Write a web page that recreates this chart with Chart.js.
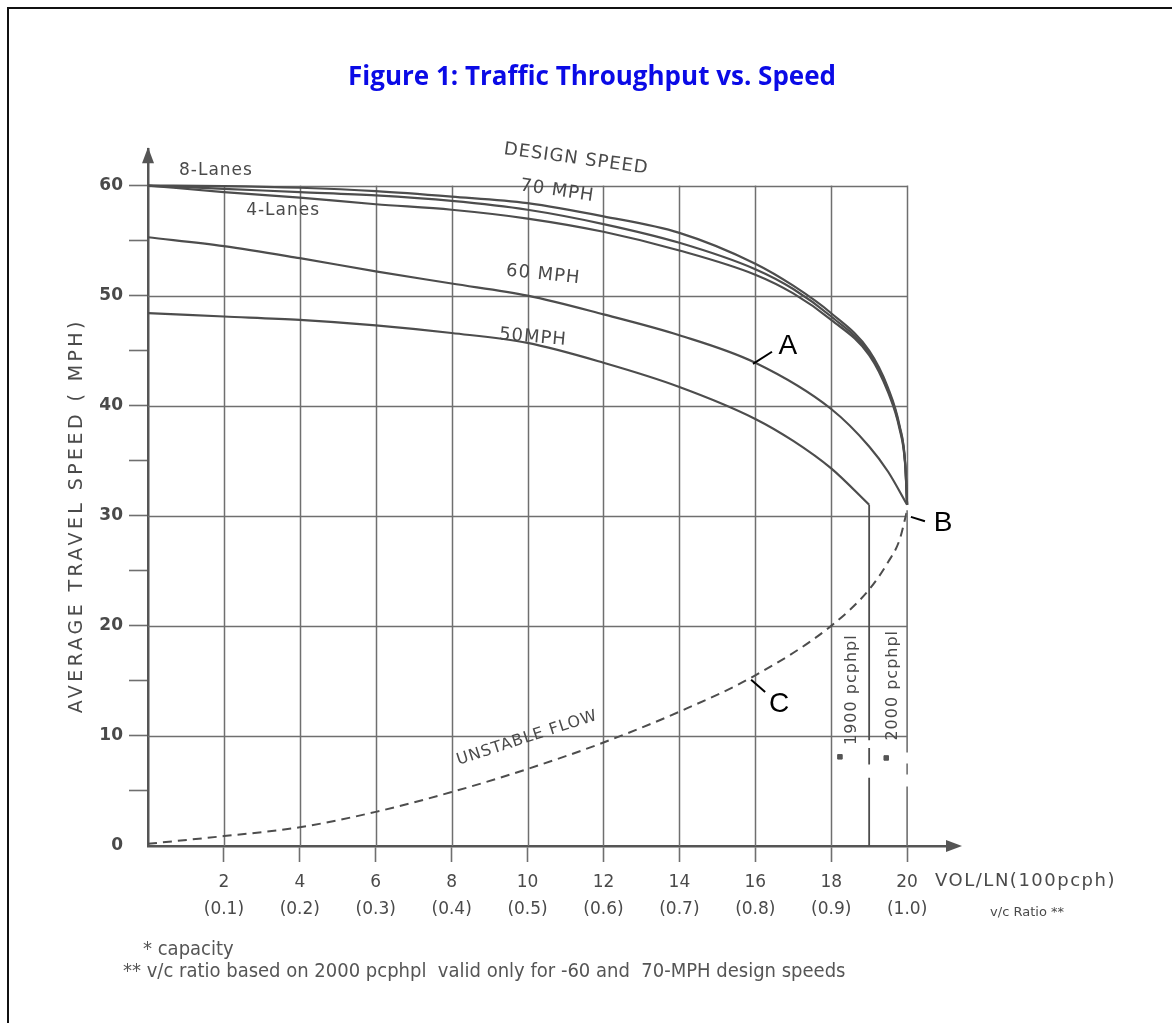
<!DOCTYPE html>
<html>
<head>
<meta charset="utf-8">
<title>Figure 1: Traffic Throughput vs. Speed</title>
<script src="https://cdn.jsdelivr.net/npm/chart.js@4.4.1/dist/chart.umd.min.js"></script>
<style>
    html, body { margin: 0; padding: 0; background: #fff; overflow: hidden; }
    #frame {
        position: absolute; left: 7px; top: 7px; width: 1200px; height: 1100px;
        border-left: 2px solid #111; border-top: 2px solid #111;
    }
    #wrap { position: absolute; left: 0; top: 0; width: 1172px; height: 1023px; }
</style>
</head>
<body>
<div id="frame"></div>
<div id="wrap"><canvas id="speed-chart" width="1172" height="1023"></canvas></div>
<script>
// Axis ticks
const volTicks = [2, 4, 6, 8, 10, 12, 14, 16, 18, 20];
const vcRatio = ['(0.1)', '(0.2)', '(0.3)', '(0.4)', '(0.5)', '(0.6)', '(0.7)', '(0.8)', '(0.9)', '(1.0)'];
const speedTicks = [0, 5, 10, 15, 20, 25, 30, 35, 40, 45, 50, 55, 60];

// 70 MPH design speed (8, 6 and 4 lanes)
const vol70 = [0, 2, 4, 6, 8, 10, 12, 14, 16, 17, 18, 19, 19.5, 19.8, 19.95, 20];
const speed8Lanes = [60, 59.95, 59.8, 59.5, 59.0, 58.4, 57.2, 55.7, 52.9, 50.9, 48.4, 45.0, 41.6, 38.2, 34.8, 31.0];
const speed6Lanes = [60, 59.7, 59.4, 59.1, 58.6, 57.8, 56.5, 54.8, 52.4, 50.6, 48.1, 44.8, 41.4, 38.1, 34.7, 31.0];
const speed4Lanes = [60, 59.4, 58.9, 58.3, 57.8, 57.0, 55.8, 54.1, 51.9, 50.2, 47.8, 44.6, 41.2, 37.9, 34.6, 31.0];

// 60 MPH design speed
const vol60 = [0, 2, 4, 6, 8, 10, 12, 14, 16, 18, 19, 19.5, 20];
const speed60 = [55.3, 54.5, 53.4, 52.2, 51.1, 50.0, 48.3, 46.4, 43.9, 39.7, 36.3, 34.0, 31.0];

// 50 MPH design speed, capacity at 1900 pcphpl
const vol50 = [0, 2, 4, 6, 8, 10, 12, 14, 16, 17, 18, 19];
const speed50 = [48.4, 48.1, 47.8, 47.3, 46.6, 45.7, 43.9, 41.7, 38.8, 36.8, 34.3, 31.0];
const vol1900 = [19, 19, 19, 19, 19, 19, 19, 19];
const speed1900 = [31.0, 9.6, null, 8.9, 7.4, null, 6.2, 0];
const vol2000 = [20, 20, 20, 20, 20, 20, 20, 20];
const speed2000 = [30.5, 8.5, null, 7.5, 6.5, null, 5.4, 0];

// Unstable flow branch
const volUnstable = [0, 2, 4, 6, 8, 10, 12, 14, 16, 18, 19, 19.5, 19.8, 20];
const speedUnstable = [0.2, 0.9, 1.7, 3.1, 4.9, 7.0, 9.4, 12.2, 15.5, 20.0, 23.3, 25.8, 27.8, 30.5];

// capacity markers
const volCapMark = [18.23, 19.45];
const speedCapMark = [8.1, 8.0];

const INK = '#4d4d4d';
const GRID = '#6f6f6f';
const TEXT = '#4a4a4a';
const LETTER = "'DejaVu Sans', sans-serif";

function toPoints(xs, ys) {
    return xs.map((x, i) => ({ x: x, y: ys[i] }));
}

function curve(label, xs, ys, extra) {
    return Object.assign({
        label: label,
        data: toPoints(xs, ys),
        borderColor: INK,
        borderWidth: 2.2,
        pointRadius: 0,
        fill: false,
        cubicInterpolationMode: 'monotone',
        spanGaps: false
    }, extra || {});
}

// Grid that stops at 20 / 60, plus the axis arrows
const paperGrid = {
    id: 'paperGrid',
    beforeDatasetsDraw(chart) {
        const { ctx, scales: { x, y } } = chart;
        ctx.save();
        ctx.strokeStyle = GRID;
        ctx.lineWidth = 1.5;
        ctx.beginPath();
        volTicks.slice(0, -1).forEach(v => {
            const px = Math.round(x.getPixelForValue(v)) + 0.5;
            ctx.moveTo(px, y.getPixelForValue(0));
            ctx.lineTo(px, y.getPixelForValue(60));
        });
        speedTicks.filter(s => s > 0 && s % 10 === 0).forEach(s => {
            const py = Math.round(y.getPixelForValue(s)) + 0.5;
            ctx.moveTo(x.getPixelForValue(0), py);
            ctx.lineTo(x.getPixelForValue(20), py);
        });
        // top of the 20 line down to B
        const p20 = Math.round(x.getPixelForValue(20)) + 0.5;
        ctx.moveTo(p20, y.getPixelForValue(60));
        ctx.lineTo(p20, y.getPixelForValue(31));
        ctx.stroke();

        // arrows
        ctx.fillStyle = '#555';
        const ax = x.getPixelForValue(0);
        const ay = y.getPixelForValue(0);
        ctx.beginPath();
        ctx.moveTo(ax, y.top - 2);
        ctx.lineTo(ax - 6, y.top + 14);
        ctx.lineTo(ax + 6, y.top + 14);
        ctx.closePath();
        ctx.fill();
        ctx.beginPath();
        ctx.moveTo(x.right + 12, ay);
        ctx.lineTo(x.right - 4, ay - 6);
        ctx.lineTo(x.right - 4, ay + 6);
        ctx.closePath();
        ctx.fill();
        ctx.restore();
    }
};

// Hand lettering on the sheet
const annotations = [
    { text: '8-Lanes', x: 1.79, y: 61.4, size: 17, rot: 0 },
    { text: '4-Lanes', x: 3.56, y: 57.7, size: 17, rot: 0 },
    { text: 'DESIGN SPEED', x: 11.28, y: 62.4, size: 18, rot: 7.7 },
    { text: '70 MPH', x: 10.78, y: 59.5, size: 18, rot: 8.5 },
    { text: '60 MPH', x: 10.41, y: 51.9, size: 18, rot: 6 },
    { text: '50MPH', x: 10.14, y: 46.2, size: 18, rot: 5 },
    { text: 'UNSTABLE FLOW', x: 9.99, y: 9.8, size: 16, rot: -18 },
    { text: '1900 pcphpl', x: 18.55, y: 14.2, size: 16, rot: -90 },
    { text: '2000 pcphpl', x: 19.63, y: 14.6, size: 16, rot: -90 }
];

const callouts = [
    { text: 'A', x: 16.86, y: 45.4, from: [15.94, 43.8], to: [16.44, 44.9] },
    { text: 'B', x: 20.95, y: 29.3, from: [20.1, 29.9], to: [20.47, 29.5] },
    { text: 'C', x: 16.63, y: 12.9, from: [15.89, 15.1], to: [16.26, 14.0] }
];

const lettering = {
    id: 'lettering',
    afterDatasetsDraw(chart) {
        const { ctx, scales: { x, y } } = chart;
        ctx.save();
        ctx.fillStyle = TEXT;
        ctx.textAlign = 'center';
        ctx.textBaseline = 'middle';
        ctx.letterSpacing = '1px';
        annotations.forEach(a => {
            ctx.save();
            ctx.translate(x.getPixelForValue(a.x), y.getPixelForValue(a.y));
            ctx.rotate(a.rot * Math.PI / 180);
            ctx.font = a.size + 'px ' + LETTER;
            ctx.fillText(a.text, 0, 0);
            ctx.restore();
        });
        ctx.letterSpacing = '0px';

        // A, B, C callouts
        ctx.strokeStyle = '#000';
        ctx.fillStyle = '#000';
        ctx.lineWidth = 2;
        ctx.font = "28px 'Liberation Sans', Arial, sans-serif";
        callouts.forEach(c => {
            ctx.beginPath();
            ctx.moveTo(x.getPixelForValue(c.from[0]), y.getPixelForValue(c.from[1]));
            ctx.lineTo(x.getPixelForValue(c.to[0]), y.getPixelForValue(c.to[1]));
            ctx.stroke();
            ctx.fillText(c.text, x.getPixelForValue(c.x), y.getPixelForValue(c.y));
        });

        // y axis title
        ctx.fillStyle = TEXT;
        ctx.save();
        ctx.translate(77, (y.getPixelForValue(0) + y.getPixelForValue(60)) / 2);
        ctx.rotate(-Math.PI / 2);
        ctx.font = '19px ' + LETTER;
        ctx.letterSpacing = '3.4px';
        ctx.fillText('AVERAGE TRAVEL SPEED ( MPH)', 0, 0);
        ctx.restore();

        // x axis title
        ctx.textAlign = 'left';
        ctx.font = '18px ' + LETTER;
        ctx.letterSpacing = '1.5px';
        const bx = x.getPixelForValue(20);
        ctx.fillText('VOL/LN(100pcph)', bx + 28, y.bottom + 35);
        ctx.font = '13px ' + LETTER;
        ctx.letterSpacing = '0px';
        ctx.fillText('v/c Ratio **', bx + 83, y.bottom + 67);

        // footnotes
        ctx.fillStyle = '#555';
        ctx.font = "20px 'Liberation Sans Narrow', 'DejaVu Sans Condensed', sans-serif";
        ctx.fillText('* capacity', 143, 950);
        ctx.fillText('** v/c ratio based on 2000 pcphpl  valid only for -60 and  70-MPH design speeds', 123, 972);
        ctx.restore();
    }
};

const ctx = document.getElementById('speed-chart').getContext('2d');

const speedChart = new Chart(ctx, {
    type: 'line',
    data: {
        datasets: [
            curve('8-Lanes', vol70, speed8Lanes),
            curve('6-Lanes', vol70, speed6Lanes),
            curve('4-Lanes', vol70, speed4Lanes),
            curve('60 MPH', vol60, speed60),
            curve('50 MPH', vol50, speed50),
            curve('1900 pcphpl', vol1900, speed1900, { cubicInterpolationMode: 'default', tension: 0, borderWidth: 1.8 }),
            curve('2000 pcphpl', vol2000, speed2000, { cubicInterpolationMode: 'default', tension: 0, borderWidth: 1.6, borderColor: GRID }),
            curve('Unstable flow', volUnstable, speedUnstable, { borderDash: [9, 6], borderWidth: 2 }),
            {
                type: 'scatter',
                label: 'capacity',
                data: toPoints(volCapMark, speedCapMark),
                pointStyle: 'rect',
                pointRadius: 3.2,
                backgroundColor: '#555',
                borderColor: '#555',
                showLine: false
            }
        ]
    },
    options: {
        responsive: false,
        animation: false,
        layout: { padding: { left: 12, right: 0, top: 0, bottom: 97 } },
        plugins: {
            legend: { display: false },
            tooltip: { enabled: false },
            title: {
                display: true,
                text: 'Figure 1: Traffic Throughput vs. Speed',
                color: '#0a0ae6',
                font: { family: "'Open Sans', sans-serif", size: 26, weight: 'bold' },
                padding: { top: 62, bottom: 56 }
            }
        },
        scales: {
            x: {
                type: 'linear',
                min: 0,
                max: 21.13,
                afterBuildTicks: scale => { scale.ticks = [0].concat(volTicks).map(v => ({ value: v })); },
                afterFit: scale => { scale.height = 80; },
                border: { display: true, color: '#555', width: 2.5 },
                grid: {
                    drawOnChartArea: false,
                    drawTicks: true,
                    tickLength: 16,
                    tickWidth: 1.6,
                    tickColor: c => (c.tick && c.tick.value === 0 ? 'rgba(0,0,0,0)' : GRID)
                },
                ticks: {
                    autoSkip: false,
                    maxRotation: 0,
                    padding: 7,
                    color: TEXT,
                    font: { family: LETTER, size: 17, lineHeight: 1.6 },
                    callback: v => (v === 0 ? '' : [String(v), vcRatio[volTicks.indexOf(v)]])
                }
            },
            y: {
                type: 'linear',
                min: 0,
                max: 63.3,
                afterBuildTicks: scale => { scale.ticks = speedTicks.map(v => ({ value: v })); },
                afterFit: scale => { scale.width = 136; },
                border: { display: true, color: '#555', width: 2.5 },
                grid: {
                    drawOnChartArea: false,
                    drawTicks: true,
                    tickLength: 19,
                    tickWidth: 1.6,
                    tickColor: c => (c.tick && c.tick.value === 0 ? 'rgba(0,0,0,0)' : GRID)
                },
                ticks: {
                    autoSkip: false,
                    padding: 6,
                    color: TEXT,
                    font: { family: LETTER, size: 17, weight: 'bold' },
                    callback: v => (v % 10 === 0 ? String(v) : '')
                }
            },
            // blank strip on the right, keeps the title centred on the page
            margin: {
                type: 'linear',
                position: 'right',
                display: true,
                afterFit: scale => { scale.width = 222; },
                grid: { display: false },
                border: { display: false },
                ticks: { display: false }
            }
        }
    },
    plugins: [paperGrid, lettering]
});
</script>
</body>
</html>
